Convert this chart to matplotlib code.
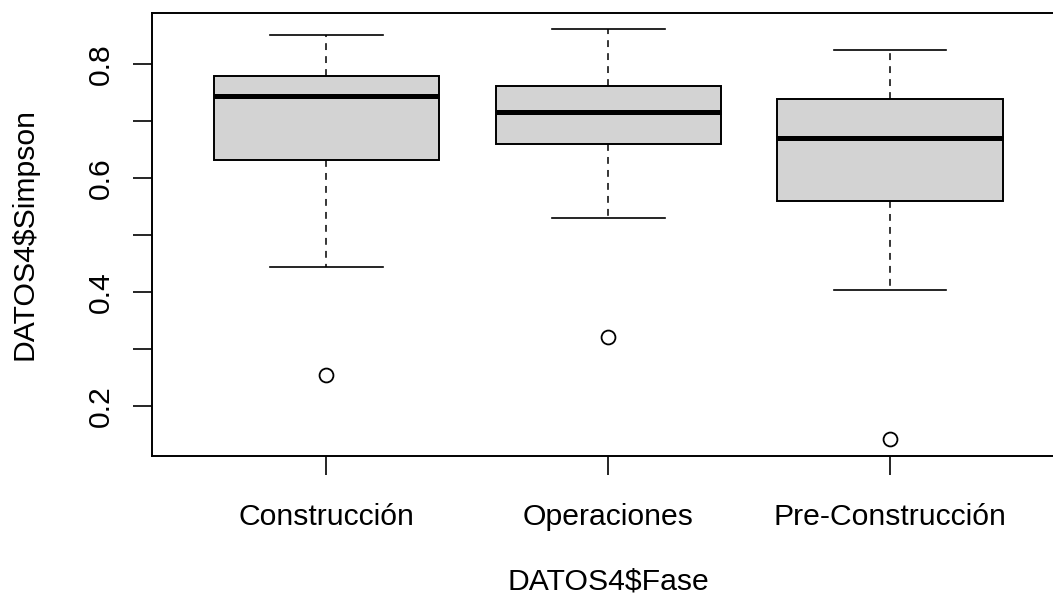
import matplotlib
matplotlib.use("Agg")
import matplotlib.pyplot as plt

plt.rcParams['font.family'] = ['Liberation Sans', 'DejaVu Sans']

fases = ['Construcción', 'Operaciones', 'Pre-Construcción']
whis_hi = [0.851, 0.861, 0.825]
q3 = [0.778, 0.761, 0.738]
medians = [0.743, 0.715, 0.669]
q1 = [0.631, 0.660, 0.559]
whis_lo = [0.444, 0.530, 0.403]
outliers = [[0.254], [0.320], [0.141]]

stats = []
for i in range(len(fases)):
    stats.append({'label': fases[i], 'whishi': whis_hi[i], 'q3': q3[i],
                  'med': medians[i], 'q1': q1[i], 'whislo': whis_lo[i],
                  'fliers': outliers[i]})

fig = plt.figure(figsize=(10.53, 5.99), dpi=100)
# plot region runs past the right edge of the picture, as in the reference
ax = fig.add_axes([151.7 / 1053, 143.3 / 599, 913.1 / 1053, 443.0 / 599])

ax.bxp(stats, positions=[1, 2, 3], widths=0.8, patch_artist=True,
       boxprops=dict(facecolor='#D3D3D3', edgecolor='black', linewidth=1.4),
       medianprops=dict(color='black', linewidth=3.6, solid_capstyle='butt'),
       whiskerprops=dict(color='black', linewidth=1.1, linestyle=(0, (4.5, 4))),
       capprops=dict(color='black', linewidth=1.2),
       capwidths=0.4,
       flierprops=dict(marker='o', markerfacecolor='none', markeredgecolor='black',
                       markersize=10, markeredgewidth=1.3))

allv = whis_hi + [o for s in outliers for o in s]
lo = min(allv)
hi = max(allv)
pad = (hi - lo) * 0.04
ax.set_ylim(lo - pad, hi + pad)
ax.set_xlim(0.38, 3.62)

ax.set_yticks([0.2, 0.3, 0.4, 0.5, 0.6, 0.7, 0.8])
ax.set_yticklabels(['0.2', '', '0.4', '', '0.6', '', '0.8'], rotation=90, va='center')
ax.set_xticks([1, 2, 3])
ax.set_xticklabels(fases)

for sp in ax.spines.values():
    sp.set_linewidth(1.4)
ax.spines['right'].set_visible(False)

fs = 21.7
ax.tick_params(axis='both', direction='out', length=13.5, width=1.2,
               labelsize=fs, colors='black')
ax.tick_params(axis='x', pad=20.5)
ax.tick_params(axis='y', pad=13)

ax.set_xlabel('DATOS4$Fase', fontsize=fs, labelpad=26.5)
ax.set_ylabel('DATOS4$Simpson', fontsize=fs, labelpad=34.5)

fig.savefig('out.png', dpi=100)
